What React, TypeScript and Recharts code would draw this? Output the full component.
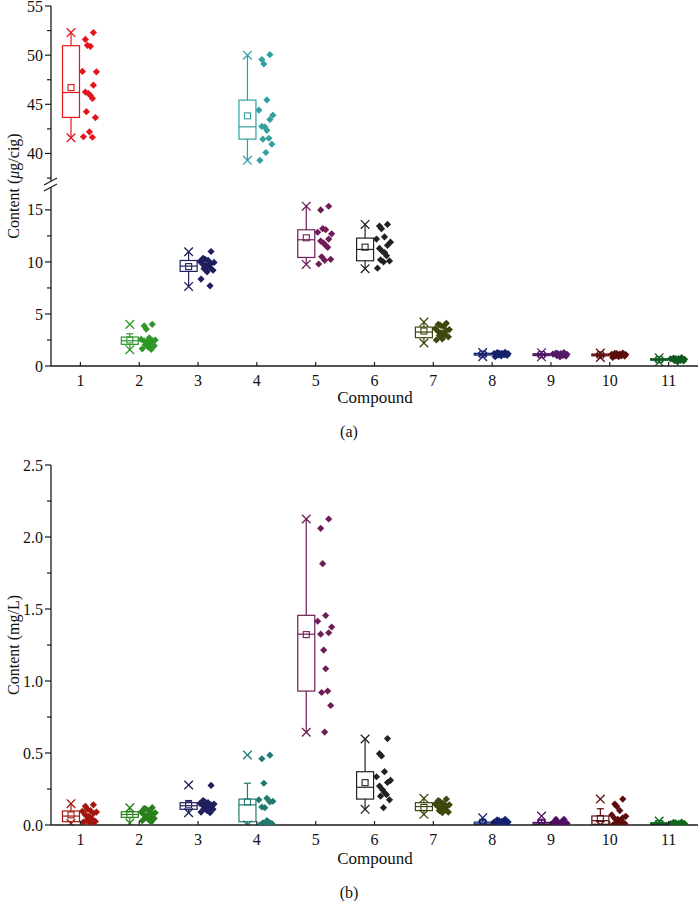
import React from "react";
import { Bar, ComposedChart, Scatter, XAxis, YAxis } from "recharts";

const W = 699;
const FONT = "'Liberation Serif', 'DejaVu Serif', serif";
const AXIS = "#1a1a1a";

const CATS = [1, 2, 3, 4, 5, 6, 7, 8, 9, 10, 11];

// ---- panel (a): content in µg/cig (broken axis) ----
const A_VALUES: number[][] = [
  [52.3, 51.6, 51.0, 50.9, 48.35, 48.3, 46.95, 46.25, 46.1, 45.9, 45.6, 44.25, 43.65, 42.2, 41.7, 41.65],
  [4.0, 3.85, 3.55, 2.7, 2.55, 2.5, 2.45, 2.4, 2.3, 2.25, 2.15, 2.05, 1.95, 1.8, 1.65, 1.6],
  [11.0, 10.35, 10.25, 10.15, 10.05, 9.95, 9.85, 9.75, 9.65, 9.55, 9.45, 9.35, 9.2, 9.05, 8.35, 7.7],
  [50.05, 49.55, 49.1, 45.45, 44.4, 43.9, 43.45, 42.75, 42.7, 42.35, 41.55, 41.45, 40.95, 40.1, 39.3],
  [15.35, 15.0, 13.2, 13.1, 12.85, 12.7, 12.2, 12.0, 11.8, 11.6, 11.4, 10.5, 10.25, 10.15, 9.8],
  [13.6, 13.45, 13.2, 12.4, 12.2, 11.9, 11.6, 11.3, 11.0, 10.9, 10.6, 10.2, 10.1, 10.0, 9.4],
  [4.1, 4.0, 3.9, 3.8, 3.6, 3.5, 3.4, 3.3, 3.2, 3.1, 3.0, 2.9, 2.8, 2.6, 2.5],
  [1.3, 1.28, 1.25, 1.22, 1.2, 1.18, 1.15, 1.15, 1.12, 1.1, 1.08, 1.05, 1.02, 0.98, 0.9],
  [1.28, 1.25, 1.2, 1.18, 1.15, 1.12, 1.1, 1.1, 1.08, 1.05, 1.02, 1.0, 0.95, 0.88],
  [1.25, 1.22, 1.18, 1.15, 1.12, 1.1, 1.08, 1.05, 1.05, 1.02, 1.0, 0.98, 0.95, 0.9, 0.82],
  [0.8, 0.75, 0.72, 0.7, 0.68, 0.65, 0.63, 0.62, 0.6, 0.58, 0.55, 0.52, 0.48, 0.4],
];
const A_MIN = [41.6, 1.57, 7.65, 39.3, 9.76, 9.35, 2.21, 0.9, 0.88, 0.82, 0.4];
const A_MAX = [52.3, 4.0, 10.98, 50.0, 15.36, 13.6, 4.22, 1.3, 1.28, 1.25, 0.8];
const A_Q1 = [43.67, 2.08, 9.09, 41.46, 10.43, 10.11, 2.72, 1.05, 1.0, 0.98, 0.55];
const A_MED = [46.2, 2.43, 9.6, 42.71, 12.13, 11.2, 3.26, 1.15, 1.1, 1.06, 0.62];
const A_Q3 = [50.96, 2.78, 10.14, 45.43, 13.09, 12.29, 3.74, 1.22, 1.18, 1.15, 0.7];
const A_MEAN = [46.7, 2.5, 9.55, 43.83, 12.32, 11.42, 3.36, 1.14, 1.09, 1.06, 0.62];
const A_WLO = [41.6, 1.57, 7.65, 39.3, 9.76, 9.35, 2.21, 0.9, 0.88, 0.82, 0.4];
const A_WHI = [52.3, 3.1, 10.98, 50.0, 15.36, 13.6, 4.22, 1.3, 1.28, 1.25, 0.8];
const A_UPPER = [1, 4]; // compounds drawn above the axis break

// ---- panel (b): content in mg/L ----
const B_VALUES: number[][] = [
  [0.14, 0.13, 0.11, 0.1, 0.095, 0.09, 0.08, 0.07, 0.06, 0.05, 0.04, 0.03, 0.025, 0.02, 0.02, 0.015],
  [0.12, 0.115, 0.11, 0.1, 0.09, 0.085, 0.08, 0.07, 0.065, 0.06, 0.055, 0.05, 0.045, 0.04, 0.03, 0.02],
  [0.275, 0.17, 0.16, 0.155, 0.15, 0.145, 0.14, 0.135, 0.13, 0.125, 0.12, 0.115, 0.11, 0.1, 0.09, 0.085],
  [0.485, 0.46, 0.29, 0.185, 0.175, 0.165, 0.16, 0.125, 0.12, 0.03, 0.02, 0.015, 0.01, 0.005, 0.0, 0.0],
  [2.125, 2.06, 1.815, 1.455, 1.415, 1.375, 1.335, 1.325, 1.215, 1.085, 0.93, 0.92, 0.83, 0.645],
  [0.6, 0.495, 0.48, 0.37, 0.335, 0.31, 0.295, 0.27, 0.245, 0.225, 0.21, 0.2, 0.175, 0.12],
  [0.18, 0.17, 0.16, 0.15, 0.145, 0.14, 0.13, 0.125, 0.12, 0.115, 0.11, 0.1, 0.09, 0.085],
  [0.04, 0.035, 0.03, 0.025, 0.02, 0.02, 0.015, 0.015, 0.01, 0.01, 0.005, 0.005, 0.0, 0.0],
  [0.04, 0.04, 0.02, 0.018, 0.015, 0.012, 0.01, 0.008, 0.006, 0.005, 0.004, 0.002, 0.0, 0.0],
  [0.18, 0.145, 0.13, 0.1, 0.07, 0.06, 0.05, 0.045, 0.04, 0.03, 0.02, 0.015, 0.01, 0.005, 0.0],
  [0.02, 0.018, 0.015, 0.012, 0.01, 0.01, 0.008, 0.006, 0.005, 0.004, 0.002, 0.0],
];
const B_MIN = [0.012, 0.014, 0.085, 0.0, 0.644, 0.109, 0.074, 0.0, 0.0, 0.0, 0.0];
const B_MAX = [0.148, 0.12, 0.278, 0.486, 2.125, 0.597, 0.185, 0.05, 0.062, 0.18, 0.028];
const B_Q1 = [0.023, 0.053, 0.109, 0.023, 0.93, 0.18, 0.1, 0.0, 0.002, 0.005, 0.004];
const B_MED = [0.062, 0.073, 0.134, 0.14, 1.325, 0.262, 0.128, 0.008, 0.008, 0.03, 0.01];
const B_Q3 = [0.097, 0.092, 0.155, 0.18, 1.456, 0.37, 0.155, 0.02, 0.018, 0.0625, 0.016];
const B_MEAN = [0.07, 0.072, 0.14, 0.16, 1.322, 0.294, 0.122, 0.012, 0.012, 0.045, 0.01];
const B_WLO = [0.012, 0.014, 0.085, 0.0, 0.644, 0.109, 0.074, 0.0, 0.0, 0.0, 0.0];
const B_WHI = [0.148, 0.12, 0.17, 0.29, 2.125, 0.597, 0.185, 0.04, 0.04, 0.113, 0.028];

const COLORS_A = ["#e4151d", "#2f972a", "#1f1f5e", "#33a0a0", "#6e1d57", "#222222", "#3e470e", "#16226e", "#561a68", "#5b0c0c", "#0f5a1f"];
const COLORS_B = ["#a3150f", "#2a7f1a", "#1f1f5e", "#217a71", "#6e1d57", "#222222", "#3e470e", "#16226e", "#4e1060", "#5b0c0c", "#11661e"];

// horizontal spread (px) of the raw points to the right of each box
const JITTER = [13, 5, 7, 10, 2, 16, 13, 5, 8, 10, 12, 6, 15, 9, 3, 12];

type Row = {
  name: string;
  x: number;
  range: [number, number] | null;
  min?: number;
  max?: number;
  q1?: number;
  med?: number;
  q3?: number;
  mean?: number;
  wlo?: number;
  whi?: number;
  color?: string;
};

function buildRows(
  mins: number[], maxs: number[], q1: number[], med: number[], q3: number[],
  mean: number[], wlo: number[], whi: number[], colors: string[], include: (c: number) => boolean
): Row[] {
  return CATS.map((c, i) =>
    include(c)
      ? {
          name: String(c), x: c, range: [mins[i], maxs[i]],
          min: mins[i], max: maxs[i], q1: q1[i], med: med[i], q3: q3[i],
          mean: mean[i], wlo: wlo[i], whi: whi[i], color: colors[i],
        }
      : { name: String(c), x: c, range: null }
  );
}

function BoxShape(props: any) {
  const { x, y, width, height, payload } = props;
  if (!payload || !payload.range) return null;
  const top = Math.min(y, y + height);
  const bot = Math.max(y, y + height);
  const span = payload.max - payload.min;
  const py = (v: number) => bot - ((v - payload.min) / span) * (bot - top);
  const cx = x + width / 2 - 9;
  const hw = 8.5;
  const c = payload.color;
  const s = 4.3;
  const cross = (yy: number) => (
    <g>
      <line x1={cx - s} y1={yy - s} x2={cx + s} y2={yy + s} stroke={c} strokeWidth={1.3} />
      <line x1={cx - s} y1={yy + s} x2={cx + s} y2={yy - s} stroke={c} strokeWidth={1.3} />
    </g>
  );
  const yq1 = py(payload.q1), yq3 = py(payload.q3);
  const ylo = py(payload.wlo), yhi = py(payload.whi);
  const ym = py(payload.mean);
  return (
    <g>
      <line x1={cx} x2={cx} y1={yhi} y2={yq3} stroke={c} strokeWidth={1.2} />
      <line x1={cx} x2={cx} y1={yq1} y2={ylo} stroke={c} strokeWidth={1.2} />
      {payload.whi < payload.max && <line x1={cx - 3.5} x2={cx + 3.5} y1={yhi} y2={yhi} stroke={c} strokeWidth={1.2} />}
      {payload.wlo > payload.min && <line x1={cx - 3.5} x2={cx + 3.5} y1={ylo} y2={ylo} stroke={c} strokeWidth={1.2} />}
      <rect x={cx - hw} y={yq3} width={hw * 2} height={Math.max(yq1 - yq3, 0.5)} fill="none" stroke={c} strokeWidth={1.2} />
      <line x1={cx - hw} x2={cx + hw} y1={py(payload.med)} y2={py(payload.med)} stroke={c} strokeWidth={1.2} />
      <rect x={cx - 3} y={ym - 3} width={6} height={6} fill="none" stroke={c} strokeWidth={1.1} />
      {cross(py(payload.max))}
      {cross(py(payload.min))}
    </g>
  );
}

function makeDiamond(color: string) {
  return (p: any) => {
    const { cx, cy, payload } = p;
    if (cx == null || cy == null) return <g />;
    const dx = JITTER[payload.k % JITTER.length];
    const px = cx + dx;
    const r = 3.6;
    return <path d={`M${px},${cy - r}L${px + r},${cy}L${px},${cy + r}L${px - r},${cy}Z`} fill={color} />;
  };
}

function XTick(p: any) {
  return (
    <g>
      <line x1={p.x} x2={p.x} y1={p.y} y2={p.y - 4} stroke={AXIS} strokeWidth={1.2} />
      <text x={p.x} y={p.y + 20} textAnchor="middle" fontSize={16} fontFamily={FONT} fill="#111">
        {p.payload.value}
      </text>
    </g>
  );
}

function makeYTick(step: number, fmt: (v: number) => string) {
  return (p: any) => {
    const v = p.payload.value;
    const major = Math.abs(v / step - Math.round(v / step)) < 1e-6;
    return (
      <g>
        <line x1={p.x} x2={p.x - (major ? 6 : 4)} y1={p.y} y2={p.y} stroke={AXIS} strokeWidth={1.2} />
        {major && (
          <text x={p.x - 8} y={p.y} dy="0.35em" textAnchor="end" fontSize={16} fontFamily={FONT} fill="#111">
            {fmt(v)}
          </text>
        )}
      </g>
    );
  };
}

type PanelProps = {
  top: number;
  height: number;
  margin: { top: number; right: number; bottom: number; left: number };
  domain: [number, number];
  ticks: number[];
  step: number;
  fmt: (v: number) => string;
  rows: Row[];
  values: number[][];
  colors: string[];
  include: (c: number) => boolean;
  xHeight: number;
  showX: boolean;
};

function Panel(props: PanelProps) {
  const { top, height, margin, domain, ticks, step, fmt, rows, values, colors, include, xHeight, showX } = props;
  return (
    <div style={{ position: "absolute", left: 0, top, width: W, height }}>
      <ComposedChart width={W} height={height} data={rows} margin={margin} barCategoryGap={0}>
        <XAxis xAxisId="cat" dataKey="name" type="category" hide height={0} />
        <XAxis
          xAxisId="num"
          dataKey="x"
          type="number"
          domain={[0.5, 11.5]}
          ticks={CATS}
          interval={0}
          allowDataOverflow
          hide={!showX}
          height={xHeight}
          tickSize={0}
          tickMargin={0}
          tickLine={false}
          axisLine={{ stroke: AXIS, strokeWidth: 1.3 }}
          tick={XTick}
        />
        <YAxis
          type="number"
          width={51}
          domain={domain}
          ticks={ticks}
          interval={0}
          allowDataOverflow
          tickSize={0}
          tickMargin={0}
          tickLine={false}
          axisLine={{ stroke: AXIS, strokeWidth: 1.3 }}
          tick={makeYTick(step, fmt)}
        />
        <Bar xAxisId="cat" dataKey="range" barSize={40} isAnimationActive={false} shape={BoxShape} />
        {CATS.filter(include).map((c) => (
          <Scatter
            key={c}
            xAxisId="num"
            dataKey="y"
            data={values[c - 1].map((v, k) => ({ x: c, y: v, k }))}
            shape={makeDiamond(colors[c - 1])}
            isAnimationActive={false}
          />
        ))}
      </ComposedChart>
    </div>
  );
}

const inUpper = (c: number) => A_UPPER.includes(c);
const inLower = (c: number) => !A_UPPER.includes(c);
const all = () => true;

export default function App() {
  const rowsUpper = buildRows(A_MIN, A_MAX, A_Q1, A_MED, A_Q3, A_MEAN, A_WLO, A_WHI, COLORS_A, inUpper);
  const rowsLower = buildRows(A_MIN, A_MAX, A_Q1, A_MED, A_Q3, A_MEAN, A_WLO, A_WHI, COLORS_A, inLower);
  const rowsB = buildRows(B_MIN, B_MAX, B_Q1, B_MED, B_Q3, B_MEAN, B_WLO, B_WHI, COLORS_B, all);
  const txt = { fontFamily: FONT, fontSize: 16, fill: "#111" };
  const big = { fontFamily: FONT, fontSize: 17, fill: "#111" };
  return (
    <div style={{ position: "absolute", left: 0, top: 0, width: W, height: 901, background: "#fff" }}>
      <Panel
        top={1}
        height={183}
        margin={{ top: 5, right: 1, bottom: 3, left: 0 }}
        domain={[37.2, 55]}
        ticks={[37.5, 40, 42.5, 45, 47.5, 50, 52.5, 55]}
        step={5}
        fmt={(v) => String(v)}
        rows={rowsUpper}
        values={A_VALUES}
        colors={COLORS_A}
        include={inUpper}
        xHeight={0}
        showX={false}
      />
      <Panel
        top={184}
        height={236}
        margin={{ top: 3, right: 1, bottom: 0, left: 0 }}
        domain={[0, 17.2]}
        ticks={[0, 2.5, 5, 7.5, 10, 12.5, 15]}
        step={5}
        fmt={(v) => String(v)}
        rows={rowsLower}
        values={A_VALUES}
        colors={COLORS_A}
        include={inLower}
        xHeight={54}
        showX
      />
      <Panel
        top={455}
        height={420}
        margin={{ top: 10, right: 1, bottom: 0, left: 0 }}
        domain={[0, 2.5]}
        ticks={[0, 0.25, 0.5, 0.75, 1, 1.25, 1.5, 1.75, 2, 2.25, 2.5]}
        step={0.5}
        fmt={(v) => v.toFixed(1)}
        rows={rowsB}
        values={B_VALUES}
        colors={COLORS_B}
        include={all}
        xHeight={50}
        showX
      />
      <svg width={W} height={901} style={{ position: "absolute", left: 0, top: 0, pointerEvents: "none" }}>
        <line x1={44} y1={185} x2={57} y2={178} stroke={AXIS} strokeWidth={1.2} />
        <line x1={44} y1={191} x2={57} y2={184} stroke={AXIS} strokeWidth={1.2} />
        <text transform="translate(19,186) rotate(-90)" textAnchor="middle" {...txt}>
          Content (<tspan fontStyle="italic">μ</tspan>g/cig)
        </text>
        <text x={375} y={403} textAnchor="middle" {...big}>Compound</text>
        <text x={349} y={437} textAnchor="middle" {...txt}>(a)</text>
        <text transform="translate(19,645) rotate(-90)" textAnchor="middle" {...txt}>
          Content (mg/L)
        </text>
        <text x={375} y={864} textAnchor="middle" {...big}>Compound</text>
        <text x={349} y={898} textAnchor="middle" {...txt}>(b)</text>
      </svg>
    </div>
  );
}
